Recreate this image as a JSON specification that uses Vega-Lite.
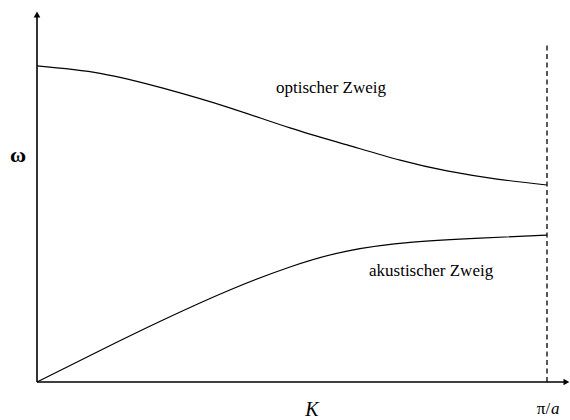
{
  "$schema": "https://vega.github.io/schema/vega-lite/v6.json",
  "autosize": "none",
  "width": 510,
  "height": 371,
  "padding": {"left": 37, "top": 11, "right": 23, "bottom": 38},
  "background": "white",
  "config": {"view": {"stroke": null}},
  "datasets": {
    "branches": [
      {"branch": "optisch", "K": 0.0, "w": 0.852},
      {"branch": "optisch", "K": 0.1235, "w": 0.832},
      {"branch": "optisch", "K": 0.247, "w": 0.792},
      {"branch": "optisch", "K": 0.378, "w": 0.739},
      {"branch": "optisch", "K": 0.496, "w": 0.685},
      {"branch": "optisch", "K": 0.608, "w": 0.639},
      {"branch": "optisch", "K": 0.712, "w": 0.598},
      {"branch": "optisch", "K": 0.804, "w": 0.569},
      {"branch": "optisch", "K": 0.902, "w": 0.547},
      {"branch": "optisch", "K": 1.0, "w": 0.531},
      {"branch": "akustisch", "K": 0.0, "w": 0.0},
      {"branch": "akustisch", "K": 0.118, "w": 0.081},
      {"branch": "akustisch", "K": 0.247, "w": 0.167},
      {"branch": "akustisch", "K": 0.378, "w": 0.248},
      {"branch": "akustisch", "K": 0.496, "w": 0.31},
      {"branch": "akustisch", "K": 0.608, "w": 0.353},
      {"branch": "akustisch", "K": 0.737, "w": 0.377},
      {"branch": "akustisch", "K": 0.869, "w": 0.388},
      {"branch": "akustisch", "K": 1.0, "w": 0.396}
    ]
  },
  "encoding": {
    "x": {"field": "K", "type": "quantitative", "scale": {"domain": [0, 1], "nice": false, "zero": false}, "axis": null},
    "y": {"field": "w", "type": "quantitative", "scale": {"domain": [0, 1], "nice": false, "zero": false}, "axis": null}
  },
  "layer": [
    {
      "data": {"values": [{"K": 0, "w": 0, "K2": 1.035}]},
      "mark": {"type": "rule", "color": "black", "strokeWidth": 1.6},
      "encoding": {"x2": {"field": "K2"}}
    },
    {
      "data": {"values": [{"K": 0, "w": 0, "w2": 0.985}]},
      "mark": {"type": "rule", "color": "black", "strokeWidth": 1.6},
      "encoding": {"y2": {"field": "w2"}}
    },
    {
      "data": {"values": [{"K": 0, "w": 0.9906}]},
      "mark": {"type": "point", "shape": "triangle-up", "filled": true, "color": "black", "size": 45, "opacity": 1}
    },
    {
      "data": {"values": [{"K": 1.038, "w": 0}]},
      "mark": {"type": "point", "shape": "triangle-right", "filled": true, "color": "black", "size": 45, "opacity": 1}
    },
    {
      "data": {"values": [{"K": 1, "w": 0, "w2": 0.908}]},
      "mark": {"type": "rule", "color": "black", "strokeWidth": 1.3, "strokeDash": [5, 3.5]},
      "encoding": {"y2": {"field": "w2"}}
    },
    {
      "data": {"name": "branches"},
      "mark": {"type": "line", "color": "black", "strokeWidth": 1.2, "interpolate": "natural"},
      "encoding": {"detail": {"field": "branch"}}
    },
    {
      "data": {"values": [
        {"text": "optischer Zweig", "K": 0.4686, "w": 0.78},
        {"text": "akustischer Zweig", "K": 0.651, "w": 0.2857}
      ]},
      "mark": {"type": "text", "font": "serif", "fontSize": 17, "align": "left", "baseline": "alphabetic", "color": "black"},
      "encoding": {"text": {"field": "text"}}
    },
    {
      "data": {"values": [{"text": "K", "K": 0.539, "w": -0.0916}]},
      "mark": {"type": "text", "font": "serif", "fontSize": 20, "fontStyle": "italic", "align": "center", "baseline": "alphabetic", "color": "black"},
      "encoding": {"text": {"field": "text"}}
    },
    {
      "data": {"values": [{"text": "π/", "K": 0.98, "w": -0.0863}]},
      "mark": {"type": "text", "font": "serif", "fontSize": 17, "align": "left", "baseline": "alphabetic", "color": "black"},
      "encoding": {"text": {"field": "text"}}
    },
    {
      "data": {"values": [{"text": "a", "K": 1.0078, "w": -0.0863}]},
      "mark": {"type": "text", "font": "serif", "fontSize": 17, "fontStyle": "italic", "align": "left", "baseline": "alphabetic", "color": "black"},
      "encoding": {"text": {"field": "text"}}
    },
    {
      "data": {"values": [{"text": "ω", "K": -0.0373, "w": 0.593}]},
      "mark": {"type": "text", "font": "serif", "fontSize": 22, "fontWeight": "bold", "align": "center", "baseline": "alphabetic", "color": "black"},
      "encoding": {"text": {"field": "text"}}
    }
  ]
}
